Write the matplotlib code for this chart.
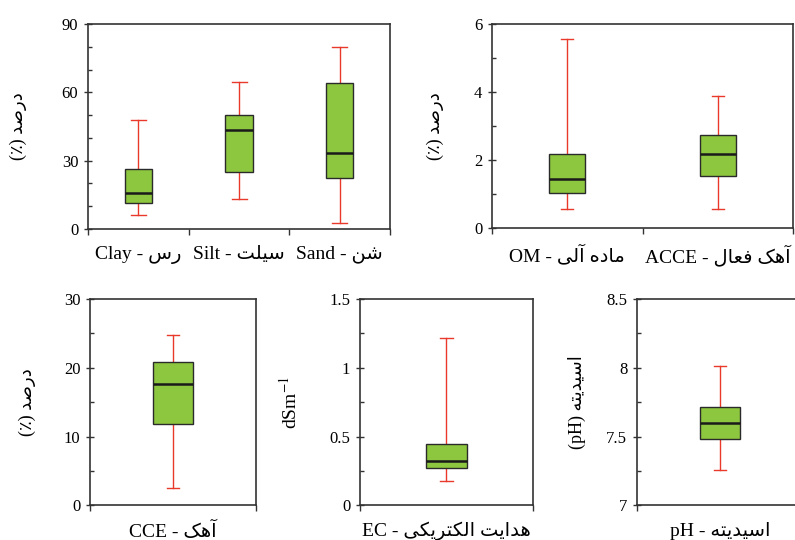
import matplotlib
matplotlib.use('Agg')
import matplotlib.pyplot as plt
from matplotlib.ticker import MultipleLocator, FixedLocator, NullFormatter, FormatStrFormatter

plt.rcParams['font.family'] = ['Liberation Serif', 'DejaVu Sans']
plt.rcParams['mathtext.fontset'] = 'stix'

# persian letter forms: isolated, final, initial, medial
forms = {
    'ا': ('\uFE8D', '\uFE8E', None, None),
    'آ': ('\uFE81', '\uFE82', None, None),
    'ت': ('\uFE95', '\uFE96', '\uFE97', '\uFE98'),
    'د': ('\uFEA9', '\uFEAA', None, None),
    'ر': ('\uFEAD', '\uFEAE', None, None),
    'س': ('\uFEB1', '\uFEB2', '\uFEB3', '\uFEB4'),
    'ش': ('\uFEB5', '\uFEB6', '\uFEB7', '\uFEB8'),
    'ص': ('\uFEB9', '\uFEBA', '\uFEBB', '\uFEBC'),
    'ع': ('\uFEC9', '\uFECA', '\uFECB', '\uFECC'),
    'ف': ('\uFED1', '\uFED2', '\uFED3', '\uFED4'),
    'ل': ('\uFEDD', '\uFEDE', '\uFEDF', '\uFEE0'),
    'م': ('\uFEE1', '\uFEE2', '\uFEE3', '\uFEE4'),
    'ن': ('\uFEE5', '\uFEE6', '\uFEE7', '\uFEE8'),
    'ه': ('\uFEE9', '\uFEEA', '\uFEEB', '\uFEEC'),
    'ک': ('\uFB8E', '\uFB8F', '\uFB90', '\uFB91'),
    'ی': ('\uFBFC', '\uFBFD', '\uFBFE', '\uFBFF'),
}


def fa(text):
    # shape and reverse so it reads right to left
    out = []
    for i, ch in enumerate(text):
        if ch not in forms:
            out.append(ch)
            continue
        prev = text[i - 1] if i > 0 else ''
        nxt = text[i + 1] if i + 1 < len(text) else ''
        jp = prev in forms and forms[prev][2] is not None
        jn = nxt in forms and forms[ch][2] is not None
        f = forms[ch]
        if jp and jn:
            out.append(f[3])
        elif jp:
            out.append(f[1])
        elif jn:
            out.append(f[2])
        else:
            out.append(f[0])
    return ''.join(out[::-1])


# soil texture (%)
tex_labels = ['Clay - ' + fa('رس'), 'Silt - ' + fa('سیلت'), 'Sand - ' + fa('شن')]
tex_low = [6, 13, 2.5]
tex_q1 = [11.5, 25, 22.3]
tex_med = [16, 43.6, 33.2]
tex_q3 = [26.5, 50, 64.2]
tex_high = [48, 64.5, 80]

# organic matter and active lime (%)
om_labels = ['OM - ' + fa('ماده آلی'), 'ACCE - ' + fa('آهک فعال')]
om_low = [0.57, 0.55]
om_q1 = [1.03, 1.53]
om_med = [1.45, 2.19]
om_q3 = [2.19, 2.73]
om_high = [5.57, 3.89]

# CCE, EC, pH
one_labels = ['CCE - ' + fa('آهک'), 'EC - ' + fa('هدایت الکتریکی'), 'pH - ' + fa('اسیدیته')]
one_low = [2.6, 0.18, 7.257]
one_q1 = [11.8, 0.274, 7.483]
one_med = [17.7, 0.325, 7.597]
one_q3 = [20.9, 0.444, 7.718]
one_high = [24.7, 1.216, 8.015]

pct = '(\u066A) ' + fa('درصد')

green = '#8dc63f'
red = '#e8392b'


def draw(ax, labels, low, q1, med, q3, high, width, capw, ylim, major, minor, ylabel, labx, labsize=13):
    stats = []
    for i in range(len(labels)):
        stats.append({'whislo': low[i], 'q1': q1[i], 'med': med[i], 'q3': q3[i],
                      'whishi': high[i], 'fliers': []})
    n = len(labels)
    pos = list(range(1, n + 1))
    ax.bxp(stats, positions=pos, widths=width, capwidths=capw, patch_artist=True, showfliers=False,
           boxprops=dict(facecolor=green, edgecolor='#2a2a2a', linewidth=1.0),
           medianprops=dict(color='#1a1a1a', linewidth=1.8),
           whiskerprops=dict(color=red, linewidth=1.0),
           capprops=dict(color=red, linewidth=1.0))
    # whiskers behind boxes
    for line in ax.lines:
        if line.get_color() == red:
            line.set_zorder(1)
    ax.set_xlim(0.5, n + 0.5)
    ax.set_ylim(*ylim)
    ax.xaxis.set_major_locator(FixedLocator([p + 0.5 for p in range(n + 1)]))
    ax.xaxis.set_major_formatter(NullFormatter())
    ax.xaxis.set_minor_locator(FixedLocator(pos))
    ax.set_xticklabels(labels, minor=True, fontsize=14)
    ax.tick_params(axis='x', which='major', direction='out', length=4, width=1, color='#333333')
    ax.tick_params(axis='x', which='minor', length=0, pad=12)
    ax.yaxis.set_major_locator(MultipleLocator(major))
    ax.yaxis.set_minor_locator(MultipleLocator(minor))
    ax.yaxis.set_major_formatter(FormatStrFormatter('%g'))
    ax.tick_params(axis='y', which='major', direction='inout', length=6, width=1, labelsize=12,
                   color='#333333', pad=4)
    ax.tick_params(axis='y', which='minor', direction='in', length=3, width=1, color='#333333')
    for s in ax.spines.values():
        s.set_linewidth(1.2)
        s.set_color('#333333')
    ax.set_ylabel(ylabel, fontsize=labsize)
    ax.yaxis.set_label_coords(labx, 0.5)


fig = plt.figure(figsize=(7.95, 5.4), dpi=100)

ax1 = fig.add_axes([0.1107, 0.5759, 0.380, 0.3796])
draw(ax1, tex_labels, tex_low, tex_q1, tex_med, tex_q3, tex_high, 0.27, 0.15,
     (0, 90), 30, 10, pct, -0.202)

ax2 = fig.add_axes([0.6189, 0.5778, 0.3786, 0.3778])
draw(ax2, om_labels, om_low, om_q1, om_med, om_q3, om_high, 0.24, 0.08,
     (0, 6), 2, 1, pct, -0.159)

lefts = [0.1132, 0.4528, 0.8013]
widths = [0.2088, 0.2176, 0.2088]
ylims = [(0, 30), (0, 1.5), (7, 8.5)]
majors = [10, 0.5, 0.5]
minors = [5, 0.25, 0.25]
ylabels = [pct, 'dSm$^{-1}$', '(pH) ' + fa('اسیدیته')]
labxs = [-0.325, -0.341, -0.307]
labsizes = [13, 14, 13]
for i in range(3):
    ax = fig.add_axes([lefts[i], 0.0639, widths[i], 0.3824])
    draw(ax, [one_labels[i]], [one_low[i]], [one_q1[i]], [one_med[i]], [one_q3[i]], [one_high[i]],
         0.24, 0.07, ylims[i], majors[i], minors[i], ylabels[i], labxs[i], labsizes[i])

plt.savefig('out.png', dpi=100)
